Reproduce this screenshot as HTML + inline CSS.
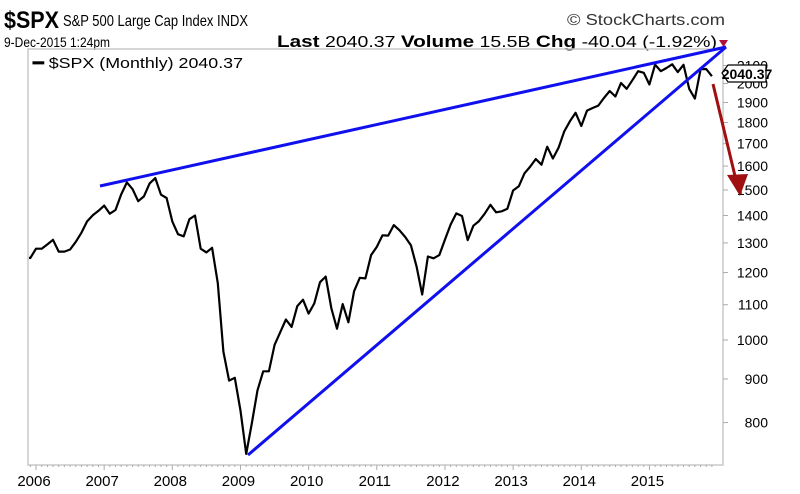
<!DOCTYPE html>
<html><head><meta charset="utf-8"><style>
body{margin:0;background:#fff;width:800px;height:494px;overflow:hidden;font-family:"Liberation Sans",sans-serif;}
svg{display:block}
</style></head><body>
<svg width="800" height="494" xmlns="http://www.w3.org/2000/svg">
<defs><clipPath id="plotclip"><rect x="29" y="49" width="694" height="416"/></clipPath></defs>
<g>
<text x="4" y="28" font-size="24" font-weight="bold" textLength="55" lengthAdjust="spacingAndGlyphs">$SPX</text>
<text x="63" y="26" font-size="16" textLength="185" lengthAdjust="spacingAndGlyphs">S&amp;P 500 Large Cap Index  INDX</text>
<text x="567" y="25" font-size="16" fill="#333" textLength="158" lengthAdjust="spacingAndGlyphs">© StockCharts.com</text>
<text x="4" y="47" font-size="14" textLength="106" lengthAdjust="spacingAndGlyphs">9-Dec-2015 1:24pm</text>
<text x="277" y="47" font-size="16" textLength="440" lengthAdjust="spacingAndGlyphs"><tspan font-weight="bold" font-size="17">Last</tspan> 2040.37  <tspan font-weight="bold" font-size="17">Volume</tspan> 15.5B  <tspan font-weight="bold" font-size="17">Chg</tspan> -40.04 (-1.92%)</text>
<path d="M719,40 L728,40 L723.5,47 Z" fill="#b0103a"/>
</g>
<rect x="28" y="49" width="695" height="416" fill="none" stroke="#c8c8c8" stroke-width="1.5"/>
<g id="yaxis"></g>
<g id="xaxis"></g>
<text x="33" y="68" font-size="15" textLength="210" lengthAdjust="spacingAndGlyphs"><tspan font-weight="bold">━</tspan> $SPX (Monthly) 2040.37</text>
<g id="series" clip-path="url(#plotclip)"></g>
<g>
<line x1="100" y1="186" x2="726" y2="47" stroke="#1010ee" stroke-width="3"/>
<line x1="248" y1="455" x2="726" y2="47" stroke="#1010ee" stroke-width="3"/>
<line x1="713" y1="84" x2="735" y2="176" stroke="#a01010" stroke-width="3"/>
<path d="M727,175 L748,174 L740,196 Z" fill="#a01010"/>
</g>
<g>
<path d="M722,73 L728,65 L766,65 L766,82 L728,82 Z" fill="#fff" stroke="#000" stroke-width="1.2"/>
<text x="747" y="79" font-size="14" font-weight="bold" text-anchor="middle">2040.37</text>
</g>
</svg>
<script>
const yTicks=[800,900,1000,1100,1200,1300,1400,1500,1600,1700,1800,1900,2000,2100];
const yearLabels=["2006","2007","2008","2009","2010","2011","2012","2013","2014","2015"];
const startLabel="2005-11";
const closes=[1249,1248,
1280,1280,1295,1311,1270,1270,1277,1304,1336,1378,1401,1418,
1438,1407,1421,1482,1531,1503,1455,1474,1527,1549,1481,1468,
1378,1331,1323,1386,1400,1280,1267,1283,1166,969,896,903,
826,735,798,873,919,919,987,1021,1057,1036,1096,1115,
1074,1104,1169,1187,1089,1031,1102,1049,1141,1183,1181,1258,
1286,1327,1326,1364,1345,1321,1292,1219,1131,1253,1247,1258,
1312,1366,1408,1398,1310,1362,1379,1407,1441,1412,1416,1426,
1498,1515,1569,1598,1631,1606,1686,1633,1682,1757,1806,1848,
1783,1859,1872,1884,1924,1960,1931,2003,1972,2018,2068,2059,
1995,2105,2068,2086,2107,2063,2104,1972,1920,2079,2080,2040];
const NS="http://www.w3.org/2000/svg";
function xOf(i){return 36+(i-2)*5.68;}
function yOf(v){return 340-370*Math.log(v/1000);}
const ya=document.getElementById('yaxis');
yTicks.forEach(v=>{
  const y=yOf(v);
  const t=document.createElementNS(NS,'text');
  
  
  t.setAttribute('x',768);t.setAttribute('y',y+5);t.setAttribute('font-size','14');t.setAttribute('text-anchor','end');
  t.textContent=v;ya.appendChild(t);
  const l=document.createElementNS(NS,'line');
  
  
  l.setAttribute('x1',723);l.setAttribute('x2',728);l.setAttribute('y1',y);l.setAttribute('y2',y);l.setAttribute('stroke','#aaa');
  ya.appendChild(l);
});
const xa=document.getElementById('xaxis');
yearLabels.forEach((lab,k)=>{
  const x=xOf(2+12*k);
  const t=document.createElementNS(NS,'text');
  
  
  t.setAttribute('x',x-2);t.setAttribute('y',486);t.setAttribute('font-size','15');t.setAttribute('text-anchor','middle');
  t.textContent=lab;xa.appendChild(t);
});
for(let i=1;i<closes.length;i++){
  const l=document.createElementNS(NS,'line');
  
  
  const x=xOf(i);
  l.setAttribute('x1',x);l.setAttribute('x2',x);l.setAttribute('y1',465);l.setAttribute('y2',(i-2)%12===0?470:467);l.setAttribute('stroke','#aaa');
  xa.appendChild(l);
}
const p=document.createElementNS(NS,'polyline');


p.setAttribute('points',closes.map((v,i)=>xOf(i).toFixed(1)+','+yOf(v).toFixed(1)).join(' '));
p.setAttribute('fill','none');p.setAttribute('stroke','#000');p.setAttribute('stroke-width','2.2');p.setAttribute('stroke-linejoin','round');
document.getElementById('series').appendChild(p);
</script>
</body></html>
